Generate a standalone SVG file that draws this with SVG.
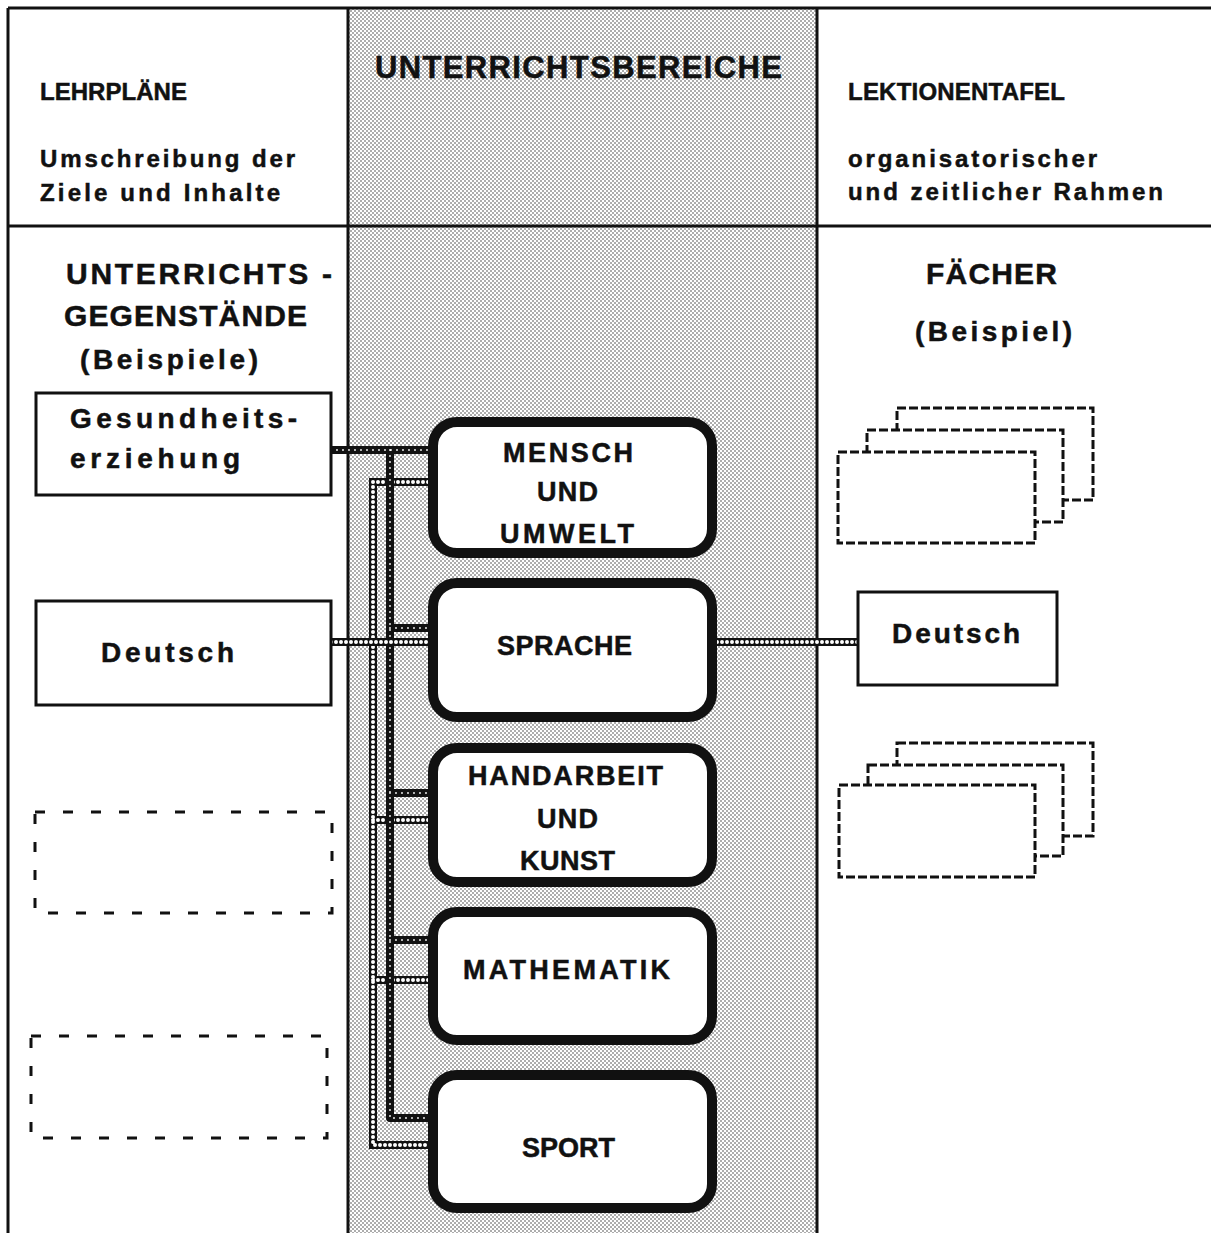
<svg xmlns="http://www.w3.org/2000/svg" width="1211" height="1233" viewBox="0 0 1211 1233">
<defs>
<pattern id="stip" width="4" height="4" patternUnits="userSpaceOnUse">
<rect width="4" height="4" fill="#fff"/>
<circle cx="1" cy="1" r="0.75" fill="#333"/>
<circle cx="3" cy="3" r="0.75" fill="#333"/>
</pattern>
<style>
.frame{stroke:#111;stroke-width:3;fill:none}
.t{font-family:"Liberation Sans",Arial,sans-serif;font-weight:bold;fill:#111;stroke:#111;stroke-width:0.5}
.box{fill:#fff;stroke:#111;stroke-width:3}
.rbox{fill:#fff;stroke:#111;stroke-width:10}
.dashL{fill:none;stroke:#111;stroke-width:3;stroke-dasharray:10 18}
.dashR{fill:#fff;stroke:#111;stroke-width:3;stroke-dasharray:9 3}
.ropeB{fill:none;stroke:#111;stroke-width:8;stroke-linejoin:round}
.ropeD{fill:none;stroke:#fff;stroke-width:1.8;stroke-linecap:round;stroke-dasharray:0 6}
.chainB{fill:none;stroke:#111;stroke-width:8}
.chainD{fill:none;stroke:#fff;stroke-width:4;stroke-linecap:round;stroke-dasharray:0 5}
</style>
</defs>
<rect width="1211" height="1233" fill="#fff"/>
<g id="columns">
<rect x="348" y="8" width="469" height="1225" fill="url(#stip)"/>
<path class="frame" d="M8 8H1211M8 226H1211M8 8V1233M348 8V1233M817 8V1233"/>
</g>
<g id="header-left">
<text class="t" x="40" y="100" font-size="24" textLength="147">LEHRPLÄNE</text>
<text class="t" x="40" y="167" font-size="24" textLength="255">Umschreibung der</text>
<text class="t" x="40" y="201" font-size="24" textLength="240">Ziele und Inhalte</text>
</g>
<g id="header-mid">
<text class="t" x="375" y="78" font-size="31" stroke-width="1" textLength="407">UNTERRICHTSBEREICHE</text>
</g>
<g id="header-right">
<text class="t" x="848" y="100" font-size="24" textLength="217">LEKTIONENTAFEL</text>
<text class="t" x="848" y="167" font-size="24" textLength="249">organisatorischer</text>
<text class="t" x="848" y="200" font-size="24" textLength="315">und zeitlicher Rahmen</text>
</g>
<g id="label-gegenstaende">
<text class="t" x="66" y="284" font-size="30" textLength="266">UNTERRICHTS -</text>
<text class="t" x="64" y="326" font-size="30" textLength="243">GEGENSTÄNDE</text>
<text class="t" x="80" y="369" font-size="28" textLength="178">(Beispiele)</text>
</g>
<g id="label-faecher">
<text class="t" x="926" y="284" font-size="30" textLength="131">FÄCHER</text>
<text class="t" x="915" y="341" font-size="28" textLength="157">(Beispiel)</text>
</g>
<g id="connectors">
<path class="chainB" d="M433 482H373V1145H433M373 820H433M373 980H433"/>
<path class="chainD" d="M433 482H373V1145H433M373 820H433M373 980H433"/>
<path class="ropeB" d="M331 450H433M390 450V1118H433M390 628H433M390 793H433M390 940H433"/>
<path class="ropeD" d="M331 450H433M390 450V1118H433M390 628H433M390 793H433M390 940H433"/>
<path class="chainB" d="M331 642H433M712 642H858"/>
<path class="chainD" d="M331 642H433M712 642H858"/>
</g>
<g id="node-gesundheit">
<rect class="box" x="36" y="393" width="295" height="102"/>
<text class="t" x="70" y="428" font-size="28" textLength="227">Gesundheits-</text>
<text class="t" x="70" y="468" font-size="28" textLength="170">erziehung</text>
</g>
<g id="node-deutsch-left">
<rect class="box" x="36" y="601" width="295" height="104"/>
<text class="t" x="101" y="662" font-size="28" textLength="133">Deutsch</text>
</g>
<g id="node-dashed-left-1">
<rect class="dashL" x="35" y="812" width="297" height="101"/>
</g>
<g id="node-dashed-left-2">
<rect class="dashL" x="31" y="1036" width="296" height="102"/>
</g>
<g id="node-mensch">
<rect class="rbox" x="433" y="422" width="279" height="131" rx="24"/>
<text class="t" x="503" y="462" font-size="27" textLength="130">MENSCH</text>
<text class="t" x="537" y="501" font-size="27" textLength="61">UND</text>
<text class="t" x="500" y="543" font-size="27" textLength="134">UMWELT</text>
</g>
<g id="node-sprache">
<rect class="rbox" x="433" y="583" width="279" height="134" rx="24"/>
<text class="t" x="497" y="655" font-size="27" textLength="135">SPRACHE</text>
</g>
<g id="node-handarbeit">
<rect class="rbox" x="433" y="748" width="279" height="134" rx="24"/>
<text class="t" x="468" y="785" font-size="27" textLength="195">HANDARBEIT</text>
<text class="t" x="537" y="828" font-size="27" textLength="61">UND</text>
<text class="t" x="520" y="870" font-size="27" textLength="95">KUNST</text>
</g>
<g id="node-mathematik">
<rect class="rbox" x="433" y="912" width="279" height="128" rx="24"/>
<text class="t" x="463" y="979" font-size="27" textLength="207">MATHEMATIK</text>
</g>
<g id="node-sport">
<rect class="rbox" x="433" y="1075" width="279" height="133" rx="24"/>
<text class="t" x="522" y="1157" font-size="27" textLength="93">SPORT</text>
</g>
<g id="node-deutsch-right">
<rect class="box" x="858" y="592" width="199" height="93"/>
<text class="t" x="892" y="643" font-size="28" textLength="128">Deutsch</text>
</g>
<g id="node-stack-top">
<rect class="dashR" x="897" y="408" width="196" height="92"/>
<rect class="dashR" x="867" y="430" width="196" height="92"/>
<rect class="dashR" x="838" y="452" width="197" height="91"/>
</g>
<g id="node-stack-bottom">
<rect class="dashR" x="897" y="743" width="196" height="93"/>
<rect class="dashR" x="868" y="765" width="195" height="91"/>
<rect class="dashR" x="839" y="785" width="196" height="92"/>
</g>
</svg>
